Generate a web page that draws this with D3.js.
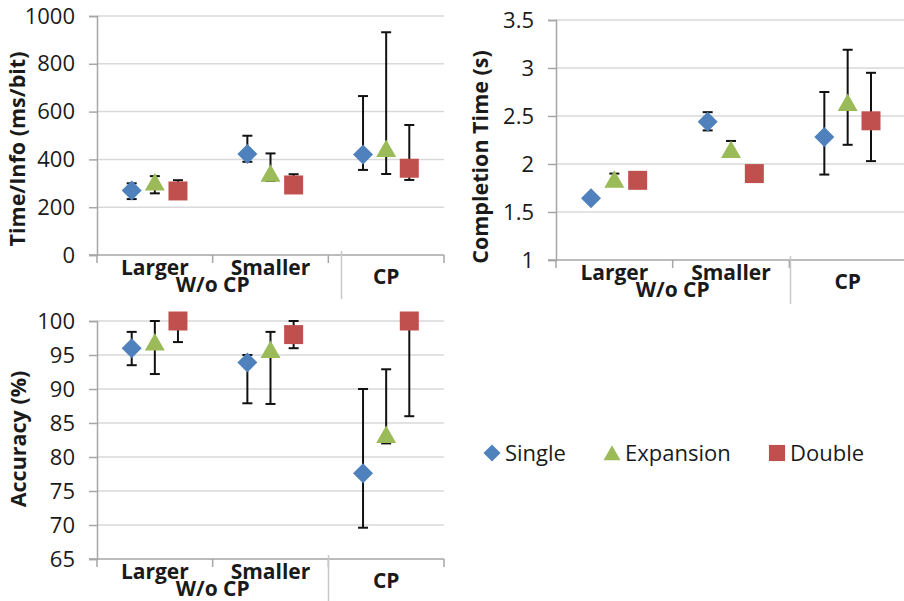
<!DOCTYPE html>
<html>
<head>
<meta charset="utf-8">
<script src="https://cdn.jsdelivr.net/npm/d3@7"></script>
<style>
  body { margin: 0; background: #fff; }
  svg { display: block; font-family: 'Open Sans', sans-serif; }
</style>
</head>
<body>
<svg id="chart" width="904" height="601"></svg>
<script>
// categories + series
const categories = ['Larger', 'Smaller', 'CP'];
const groupLabel = 'W/o CP';
const seriesNames = ['Single', 'Expansion', 'Double'];
const seriesColors = ['#4f81bd', '#9bbb59', '#c0504d'];

// Time/Info (ms/bit) : one row per series, one value per category
const timeMean = [[270, 423, 421], [305, 342, 446], [268, 293, 363]];
const timeHigh = [[300, 499, 665], [330, 425, 932], [313, 338, 544]];
const timeLow = [[234, 390, 356], [258, 310, 339], [245, 270, 314]];
const timeTicks = [0, 200, 400, 600, 800, 1000];

// Completion Time (s)
const compMean = [[1.643, 2.44, 2.28], [1.84, 2.15, 2.64], [1.83, 1.90, 2.45]];
const compHigh = [[1.66, 2.54, 2.75], [1.90, 2.24, 3.19], [1.85, 1.92, 2.95]];
const compLow = [[1.62, 2.35, 1.89], [1.80, 2.10, 2.20], [1.80, 1.88, 2.03]];
const compTicks = [1, 1.5, 2, 2.5, 3, 3.5];

// Accuracy (%)
const accMean = [[96.0, 93.9, 77.6], [96.9, 95.8, 83.3], [100, 98.0, 100]];
const accHigh = [[98.4, 95.0, 90.0], [100, 98.4, 92.9], [100, 100, 100]];
const accLow = [[93.5, 87.9, 69.6], [92.2, 87.8, 82.0], [96.9, 96.0, 86.0]];
const accTicks = [65, 70, 75, 80, 85, 90, 95, 100];

const svg = d3.select('#chart');
const textColor = '#1a1a1a';

// marker paths centred on their bounding box
function markerPath(kind, s) {
  const h = s / 2;
  if (kind === 0) return `M0,${-h}L${h},0L0,${h}L${-h},0Z`;
  if (kind === 1) return `M0,${-h * 0.9}L${h},${h * 0.85}L${-h},${h * 0.85}Z`;
  return `M${-h * 0.95},${-h * 0.95}H${h * 0.95}V${h * 0.95}H${-h * 0.95}Z`;
}

function drawPanel(opt) {
  const { left, right, top, bottom, domain, ticks, fmt, title, titleX, titleY, mean, high, low, sepX } = opt;
  const g = svg.append('g');

  const x = d3.scaleBand().domain(categories).range([left, right]);
  const bw = x.bandwidth();
  const inner = d3.scalePoint().domain(seriesNames).range([-0.2 * bw, 0.2 * bw]);
  const y = d3.scaleLinear().domain(domain).range([bottom, top]);

  // gridlines
  g.append('g').selectAll('line').data(ticks.filter(t => t !== domain[0])).join('line')
    .attr('x1', left).attr('x2', right)
    .attr('y1', d => y(d)).attr('y2', d => y(d))
    .attr('stroke', '#d9d9d9').attr('stroke-width', 1.5);

  // y axis
  const yAxis = g.append('g')
    .attr('transform', `translate(${left},0)`)
    .call(d3.axisLeft(y).tickValues(ticks).tickFormat(fmt).tickSize(8).tickPadding(14));
  yAxis.select('.domain').attr('stroke', '#a6a6a6').attr('stroke-width', 1.5);
  yAxis.selectAll('.tick line').attr('stroke', '#a6a6a6').attr('stroke-width', 1.5);
  yAxis.selectAll('.tick text')
    .attr('font-size', 22).attr('fill', textColor).attr('font-family', "'Open Sans', sans-serif");

  // x axis line + ticks between categories
  g.append('line').attr('x1', left - 8).attr('x2', right)
    .attr('y1', bottom).attr('y2', bottom)
    .attr('stroke', '#a6a6a6').attr('stroke-width', 1.5);
  const edges = [left, x('Smaller'), x('CP'), right];
  g.append('g').selectAll('line').data(edges).join('line')
    .attr('x1', d => d).attr('x2', d => d)
    .attr('y1', bottom).attr('y2', bottom + 8)
    .attr('stroke', '#a6a6a6').attr('stroke-width', 1.5);
  // group separator
  g.append('line').attr('x1', sepX).attr('x2', sepX)
    .attr('y1', bottom - 4).attr('y2', bottom + 44)
    .attr('stroke', '#c8c8c8').attr('stroke-width', 1.5);

  // category labels
  g.append('g').selectAll('text').data(categories.slice(0, 2)).join('text')
    .attr('x', d => x(d) + bw / 2).attr('y', bottom + 20)
    .attr('text-anchor', 'middle').attr('font-size', 21).attr('font-weight', 'bold')
    .attr('fill', textColor).text(d => d);
  g.append('text')
    .attr('x', x('Smaller')).attr('y', bottom + 37)
    .attr('text-anchor', 'middle').attr('font-size', 21).attr('font-weight', 'bold')
    .attr('fill', textColor).text(groupLabel);
  g.append('text')
    .attr('x', x('CP') + bw / 2).attr('y', bottom + 29)
    .attr('text-anchor', 'middle').attr('font-size', 21).attr('font-weight', 'bold')
    .attr('fill', textColor).text('CP');

  // axis title
  g.append('text')
    .attr('transform', `translate(${titleX},${titleY}) rotate(-90)`)
    .attr('text-anchor', 'middle').attr('font-size', 21.5).attr('font-weight', 'bold')
    .attr('fill', textColor).text(title);

  // error bars then markers
  const rows = [];
  seriesNames.forEach((s, si) => categories.forEach((c, ci) => {
    rows.push({ s, si, c, v: mean[si][ci], hi: high[si][ci], lo: low[si][ci] });
  }));
  const px = d => x(d.c) + bw / 2 + inner(d.s);

  const eb = g.append('g').selectAll('g').data(rows).join('g')
    .attr('stroke', '#111').attr('stroke-width', 2);
  eb.append('line').attr('x1', px).attr('x2', px)
    .attr('y1', d => y(d.hi)).attr('y2', d => y(d.lo));
  eb.append('line').attr('x1', d => px(d) - 5).attr('x2', d => px(d) + 5)
    .attr('y1', d => y(d.hi)).attr('y2', d => y(d.hi));
  eb.append('line').attr('x1', d => px(d) - 5).attr('x2', d => px(d) + 5)
    .attr('y1', d => y(d.lo)).attr('y2', d => y(d.lo));

  g.append('g').selectAll('path').data(rows).join('path')
    .attr('transform', d => `translate(${px(d)},${y(d.v)})`)
    .attr('d', d => markerPath(d.si, 20))
    .attr('fill', d => seriesColors[d.si]);
}

drawPanel({
  left: 97, right: 444, top: 16, bottom: 255, domain: [0, 1000], ticks: timeTicks,
  fmt: d3.format('d'), title: 'Time/Info (ms/bit)', titleX: 25, titleY: 149,
  mean: timeMean, high: timeHigh, low: timeLow, sepX: 341.5
});
drawPanel({
  left: 556, right: 906, top: 20, bottom: 260, domain: [1, 3.5], ticks: compTicks,
  fmt: d => String(d), title: 'Completion Time (s)', titleX: 488, titleY: 157,
  mean: compMean, high: compHigh, low: compLow, sepX: 790.5
});
drawPanel({
  left: 97, right: 444, top: 321, bottom: 559, domain: [65, 100], ticks: accTicks,
  fmt: d3.format('d'), title: 'Accuracy (%)', titleX: 26, titleY: 439,
  mean: accMean, high: accHigh, low: accLow, sepX: 328.5
});

// legend
const legendX = [492, 612, 777];
const legend = svg.append('g').selectAll('g').data(seriesNames).join('g')
  .attr('transform', (d, i) => `translate(${legendX[i]},453)`);
legend.append('path').attr('d', (d, i) => markerPath(i, 17)).attr('fill', (d, i) => seriesColors[i]);
legend.append('text').attr('x', 13).attr('y', 8)
  .attr('font-size', 22).attr('fill', textColor).text(d => d);
</script>
</body>
</html>
